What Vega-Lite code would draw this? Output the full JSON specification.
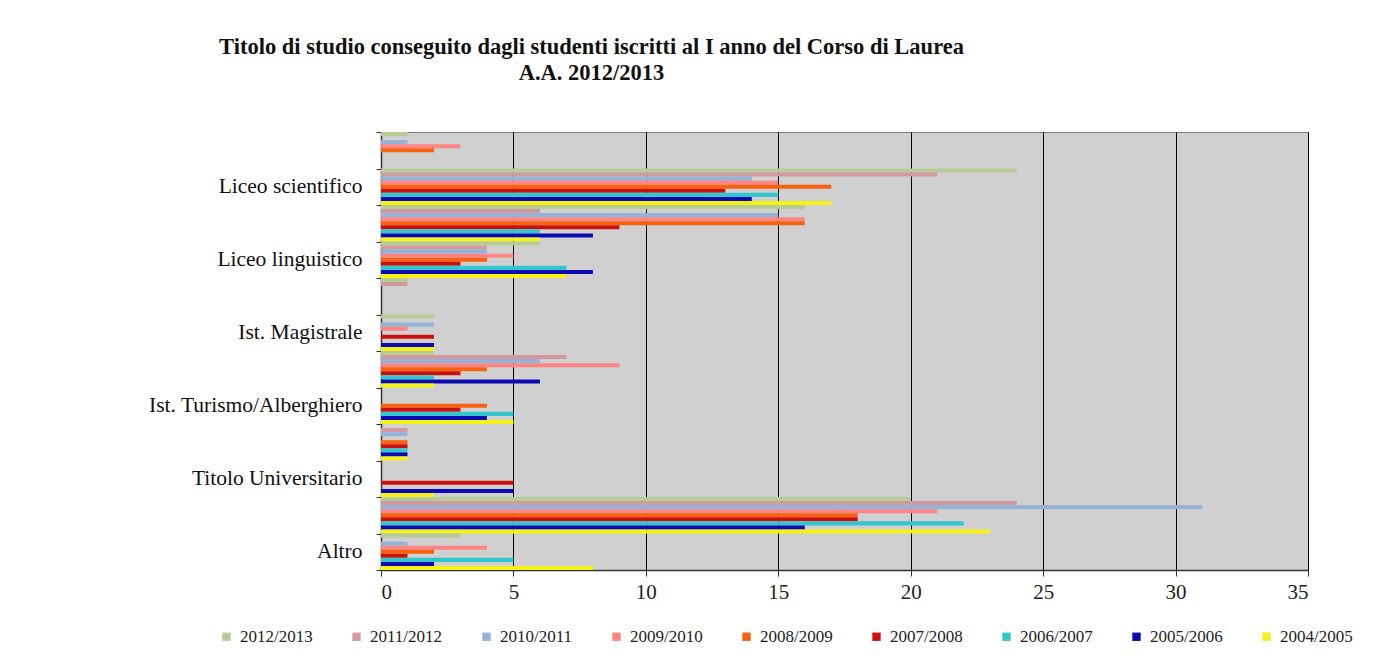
{
  "$schema": "https://vega.github.io/schema/vega-lite/v6.json",
  "autosize": {"type": "none"},
  "padding": {"left": 381, "top": 132, "right": 66, "bottom": 87},
  "width": 927,
  "height": 438,
  "background": "white",
  "title": {
    "text": ["Titolo di studio conseguito dagli studenti iscritti al I anno del Corso di Laurea", "A.A. 2012/2013"],
    "anchor": "middle",
    "dx": -253,
    "offset": 37,
    "font": "Liberation Serif",
    "fontSize": 22.5,
    "fontWeight": "bold",
    "color": "#111",
    "lineHeight": 26
  },
  "data": {
    "values": [
      {"cat": "Liceo artistico", "anno": "2012/2013", "n": 1},
      {"cat": "Liceo artistico", "anno": "2011/2012", "n": 0},
      {"cat": "Liceo artistico", "anno": "2010/2011", "n": 1},
      {"cat": "Liceo artistico", "anno": "2009/2010", "n": 3},
      {"cat": "Liceo artistico", "anno": "2008/2009", "n": 2},
      {"cat": "Liceo artistico", "anno": "2007/2008", "n": 0},
      {"cat": "Liceo artistico", "anno": "2006/2007", "n": 0},
      {"cat": "Liceo artistico", "anno": "2005/2006", "n": 0},
      {"cat": "Liceo artistico", "anno": "2004/2005", "n": 0},
      {"cat": "Liceo scientifico", "anno": "2012/2013", "n": 24},
      {"cat": "Liceo scientifico", "anno": "2011/2012", "n": 21},
      {"cat": "Liceo scientifico", "anno": "2010/2011", "n": 14},
      {"cat": "Liceo scientifico", "anno": "2009/2010", "n": 15},
      {"cat": "Liceo scientifico", "anno": "2008/2009", "n": 17},
      {"cat": "Liceo scientifico", "anno": "2007/2008", "n": 13},
      {"cat": "Liceo scientifico", "anno": "2006/2007", "n": 15},
      {"cat": "Liceo scientifico", "anno": "2005/2006", "n": 14},
      {"cat": "Liceo scientifico", "anno": "2004/2005", "n": 17},
      {"cat": "Liceo classico", "anno": "2012/2013", "n": 16},
      {"cat": "Liceo classico", "anno": "2011/2012", "n": 6},
      {"cat": "Liceo classico", "anno": "2010/2011", "n": 15},
      {"cat": "Liceo classico", "anno": "2009/2010", "n": 16},
      {"cat": "Liceo classico", "anno": "2008/2009", "n": 16},
      {"cat": "Liceo classico", "anno": "2007/2008", "n": 9},
      {"cat": "Liceo classico", "anno": "2006/2007", "n": 6},
      {"cat": "Liceo classico", "anno": "2005/2006", "n": 8},
      {"cat": "Liceo classico", "anno": "2004/2005", "n": 6},
      {"cat": "Liceo linguistico", "anno": "2012/2013", "n": 6},
      {"cat": "Liceo linguistico", "anno": "2011/2012", "n": 4},
      {"cat": "Liceo linguistico", "anno": "2010/2011", "n": 4},
      {"cat": "Liceo linguistico", "anno": "2009/2010", "n": 5},
      {"cat": "Liceo linguistico", "anno": "2008/2009", "n": 4},
      {"cat": "Liceo linguistico", "anno": "2007/2008", "n": 3},
      {"cat": "Liceo linguistico", "anno": "2006/2007", "n": 7},
      {"cat": "Liceo linguistico", "anno": "2005/2006", "n": 8},
      {"cat": "Liceo linguistico", "anno": "2004/2005", "n": 7},
      {"cat": "Liceo socio-psico-pedagogico", "anno": "2012/2013", "n": 1},
      {"cat": "Liceo socio-psico-pedagogico", "anno": "2011/2012", "n": 1},
      {"cat": "Liceo socio-psico-pedagogico", "anno": "2010/2011", "n": 0},
      {"cat": "Liceo socio-psico-pedagogico", "anno": "2009/2010", "n": 0},
      {"cat": "Liceo socio-psico-pedagogico", "anno": "2008/2009", "n": 0},
      {"cat": "Liceo socio-psico-pedagogico", "anno": "2007/2008", "n": 0},
      {"cat": "Liceo socio-psico-pedagogico", "anno": "2006/2007", "n": 0},
      {"cat": "Liceo socio-psico-pedagogico", "anno": "2005/2006", "n": 0},
      {"cat": "Liceo socio-psico-pedagogico", "anno": "2004/2005", "n": 0},
      {"cat": "Ist. Magistrale", "anno": "2012/2013", "n": 2},
      {"cat": "Ist. Magistrale", "anno": "2011/2012", "n": 0},
      {"cat": "Ist. Magistrale", "anno": "2010/2011", "n": 2},
      {"cat": "Ist. Magistrale", "anno": "2009/2010", "n": 1},
      {"cat": "Ist. Magistrale", "anno": "2008/2009", "n": 0},
      {"cat": "Ist. Magistrale", "anno": "2007/2008", "n": 2},
      {"cat": "Ist. Magistrale", "anno": "2006/2007", "n": 0},
      {"cat": "Ist. Magistrale", "anno": "2005/2006", "n": 2},
      {"cat": "Ist. Magistrale", "anno": "2004/2005", "n": 2},
      {"cat": "Ist. Professionale", "anno": "2012/2013", "n": 2},
      {"cat": "Ist. Professionale", "anno": "2011/2012", "n": 7},
      {"cat": "Ist. Professionale", "anno": "2010/2011", "n": 6},
      {"cat": "Ist. Professionale", "anno": "2009/2010", "n": 9},
      {"cat": "Ist. Professionale", "anno": "2008/2009", "n": 4},
      {"cat": "Ist. Professionale", "anno": "2007/2008", "n": 3},
      {"cat": "Ist. Professionale", "anno": "2006/2007", "n": 2},
      {"cat": "Ist. Professionale", "anno": "2005/2006", "n": 6},
      {"cat": "Ist. Professionale", "anno": "2004/2005", "n": 2},
      {"cat": "Ist. Turismo/Alberghiero", "anno": "2012/2013", "n": 0},
      {"cat": "Ist. Turismo/Alberghiero", "anno": "2011/2012", "n": 0},
      {"cat": "Ist. Turismo/Alberghiero", "anno": "2010/2011", "n": 0},
      {"cat": "Ist. Turismo/Alberghiero", "anno": "2009/2010", "n": 0},
      {"cat": "Ist. Turismo/Alberghiero", "anno": "2008/2009", "n": 4},
      {"cat": "Ist. Turismo/Alberghiero", "anno": "2007/2008", "n": 3},
      {"cat": "Ist. Turismo/Alberghiero", "anno": "2006/2007", "n": 5},
      {"cat": "Ist. Turismo/Alberghiero", "anno": "2005/2006", "n": 4},
      {"cat": "Ist. Turismo/Alberghiero", "anno": "2004/2005", "n": 5},
      {"cat": "Ist. d'Arte", "anno": "2012/2013", "n": 0},
      {"cat": "Ist. d'Arte", "anno": "2011/2012", "n": 1},
      {"cat": "Ist. d'Arte", "anno": "2010/2011", "n": 1},
      {"cat": "Ist. d'Arte", "anno": "2009/2010", "n": 0},
      {"cat": "Ist. d'Arte", "anno": "2008/2009", "n": 1},
      {"cat": "Ist. d'Arte", "anno": "2007/2008", "n": 1},
      {"cat": "Ist. d'Arte", "anno": "2006/2007", "n": 1},
      {"cat": "Ist. d'Arte", "anno": "2005/2006", "n": 1},
      {"cat": "Ist. d'Arte", "anno": "2004/2005", "n": 1},
      {"cat": "Titolo Universitario", "anno": "2012/2013", "n": 0},
      {"cat": "Titolo Universitario", "anno": "2011/2012", "n": 0},
      {"cat": "Titolo Universitario", "anno": "2010/2011", "n": 0},
      {"cat": "Titolo Universitario", "anno": "2009/2010", "n": 0},
      {"cat": "Titolo Universitario", "anno": "2008/2009", "n": 0},
      {"cat": "Titolo Universitario", "anno": "2007/2008", "n": 5},
      {"cat": "Titolo Universitario", "anno": "2006/2007", "n": 0},
      {"cat": "Titolo Universitario", "anno": "2005/2006", "n": 5},
      {"cat": "Titolo Universitario", "anno": "2004/2005", "n": 2},
      {"cat": "Ist. Tecnico", "anno": "2012/2013", "n": 20},
      {"cat": "Ist. Tecnico", "anno": "2011/2012", "n": 24},
      {"cat": "Ist. Tecnico", "anno": "2010/2011", "n": 31},
      {"cat": "Ist. Tecnico", "anno": "2009/2010", "n": 21},
      {"cat": "Ist. Tecnico", "anno": "2008/2009", "n": 18},
      {"cat": "Ist. Tecnico", "anno": "2007/2008", "n": 18},
      {"cat": "Ist. Tecnico", "anno": "2006/2007", "n": 22},
      {"cat": "Ist. Tecnico", "anno": "2005/2006", "n": 16},
      {"cat": "Ist. Tecnico", "anno": "2004/2005", "n": 23},
      {"cat": "Altro", "anno": "2012/2013", "n": 3},
      {"cat": "Altro", "anno": "2011/2012", "n": 0},
      {"cat": "Altro", "anno": "2010/2011", "n": 1},
      {"cat": "Altro", "anno": "2009/2010", "n": 4},
      {"cat": "Altro", "anno": "2008/2009", "n": 2},
      {"cat": "Altro", "anno": "2007/2008", "n": 1},
      {"cat": "Altro", "anno": "2006/2007", "n": 5},
      {"cat": "Altro", "anno": "2005/2006", "n": 2},
      {"cat": "Altro", "anno": "2004/2005", "n": 8}
    ]
  },
  "mark": {"type": "bar", "stroke": null},
  "encoding": {
    "y": {
      "field": "cat",
      "type": "nominal",
      "sort": ["Liceo artistico", "Liceo scientifico", "Liceo classico", "Liceo linguistico", "Liceo socio-psico-pedagogico", "Ist. Magistrale", "Ist. Professionale", "Ist. Turismo/Alberghiero", "Ist. d'Arte", "Titolo Universitario", "Ist. Tecnico", "Altro"],
      "scale": {"paddingInner": 0, "paddingOuter": 0},
      "axis": {
        "title": null,
        "tickBand": "extent",
        "labelExpr": "indexof(['Liceo scientifico','Liceo linguistico','Ist. Magistrale','Ist. Turismo/Alberghiero','Titolo Universitario','Altro'], datum.value) >= 0 ? datum.value : ''",
        "labelFont": "Liberation Serif",
        "labelFontSize": 21.5,
        "labelLimit": 400,
        "labelColor": "#111",
        "labelPadding": 14,
        "tickSize": 5,
        "tickColor": "#333",
        "domainColor": "#333",
        "domainWidth": 1.5,
        "grid": false
      }
    },
    "yOffset": {
      "field": "anno",
      "type": "nominal",
      "sort": ["2012/2013", "2011/2012", "2010/2011", "2009/2010", "2008/2009", "2007/2008", "2006/2007", "2005/2006", "2004/2005"],
      "scale": {"paddingInner": 0, "paddingOuter": 0}
    },
    "x": {
      "field": "n",
      "type": "quantitative",
      "scale": {"domain": [0, 35], "nice": false},
      "axis": {
        "title": null,
        "values": [0, 5, 10, 15, 20, 25, 30, 35],
        "grid": true,
        "gridColor": "#000",
        "gridOpacity": 1,
        "gridWidth": 1,
        "labelFont": "Liberation Serif",
        "labelFontSize": 21,
        "labelColor": "#222",
        "labelPadding": 5,
        "tickSize": 6,
        "tickColor": "#333",
        "domainColor": "#333",
        "domainWidth": 1.5
      }
    },
    "color": {
      "field": "anno",
      "type": "nominal",
      "sort": ["2012/2013", "2011/2012", "2010/2011", "2009/2010", "2008/2009", "2007/2008", "2006/2007", "2005/2006", "2004/2005"],
      "scale": {
        "domain": ["2012/2013", "2011/2012", "2010/2011", "2009/2010", "2008/2009", "2007/2008", "2006/2007", "2005/2006", "2004/2005"],
        "range": ["#b7cb96", "#d29a9e", "#95b3d7", "#ff8585", "#f7620f", "#cc1010", "#33c6cc", "#0a0ab0", "#f6f218"]
      },
      "legend": {
        "title": null,
        "orient": "none",
        "direction": "horizontal",
        "columns": 9,
        "legendX": -163,
        "legendY": 496,
        "symbolType": "square",
        "symbolSize": 70,
        "symbolStrokeWidth": 0,
        "labelFont": "Liberation Serif",
        "labelFontSize": 17,
        "labelColor": "#222",
        "labelOffset": 5,
        "columnPadding": 35
      }
    }
  },
  "config": {
    "view": {"fill": "#d0d0d0", "stroke": "#7a7a7a", "strokeWidth": 1}
  }
}
